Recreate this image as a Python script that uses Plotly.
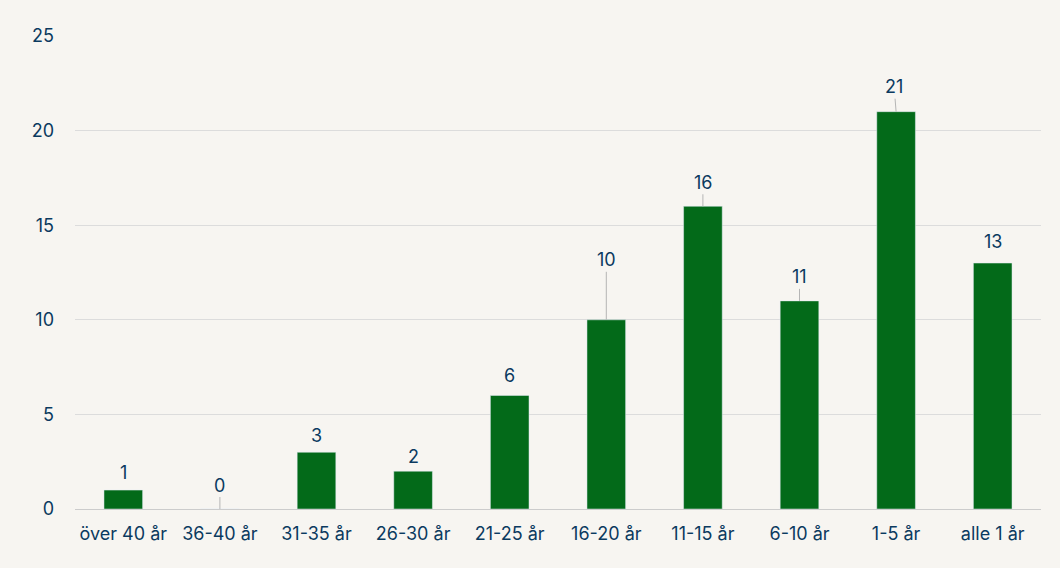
import plotly.graph_objects as go

# data
categories = ["över 40 år", "36-40 år", "31-35 år", "26-30 år", "21-25 år",
              "16-20 år", "11-15 år", "6-10 år", "1-5 år", "alle 1 år"]
values = [1, 0, 3, 2, 6, 10, 16, 11, 21, 13]

# label offsets above the bar top (px); leader line only on some
label_offsets = [-18, -24, -17, -15, -20, -60, -24, -24, -25, -22]
leader = [False, True, False, False, False, True, True, True, True, False]
leader_dx = [0, 0, 0, 0, 0, 0, 0, 0, -2, 0]

text_color = "#0b3a5f"
bar_color = "#036a19"
bg = "#f7f5f1"
font = "Inter"

fig = go.Figure()
fig.add_trace(go.Bar(x=categories, y=values, marker_color=bar_color,
                     width=0.4, hoverinfo="x+y"))

for cat, val, off, ld, dx in zip(categories, values, label_offsets, leader, leader_dx):
    lab_font = dict(family=font, size=18, color=text_color)
    if ld:
        fig.add_annotation(x=cat, y=val, text=str(val), showarrow=True,
                           arrowhead=0, arrowwidth=1, arrowcolor="#b5b5b5",
                           ax=dx, ay=off, standoff=0, font=lab_font)
    else:
        fig.add_annotation(x=cat, y=val, text=str(val), showarrow=False,
                           yanchor="middle", yshift=-off, font=lab_font)

fig.update_layout(
    width=1060, height=568,
    margin=dict(l=75, r=19, t=36, b=59),
    paper_bgcolor=bg, plot_bgcolor=bg,
    showlegend=False,
    font=dict(family=font, size=18, color=text_color),
)
fig.update_xaxes(showgrid=False, showline=False, ticks="", ticklabelstandoff=12,
                 tickfont=dict(family=font, size=18, color=text_color))
fig.update_yaxes(range=[0, 25], dtick=5, showgrid=True, gridcolor="#dcdcdc",
                 gridwidth=1, zeroline=True, zerolinecolor="#cccccc",
                 zerolinewidth=1, ticks="", ticklabelstandoff=20,
                 tickfont=dict(family=font, size=18, color=text_color))

fig.write_html("out.html", config={"displayModeBar": False},
               post_script="document.body.style.margin='0';")
